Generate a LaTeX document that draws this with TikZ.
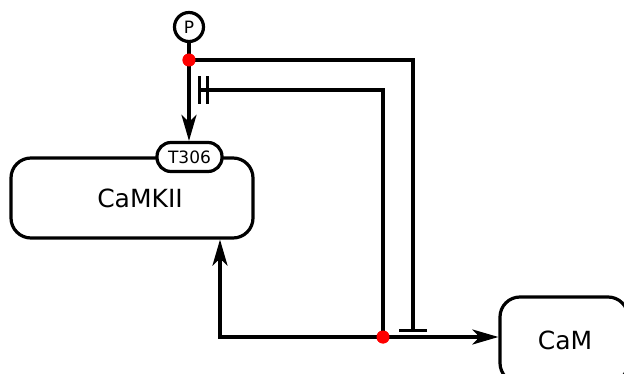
\documentclass[tikz,border=0pt]{standalone}
\usepackage{fontspec}
\setmainfont{DejaVu Sans}
\usetikzlibrary{arrows.meta}
\begin{document}
\begin{tikzpicture}[x=1pt,y=-1pt,
  line width=3.2pt,
  entity/.style={draw,rounded corners=20pt,inner sep=0pt},
  site/.style={draw,fill=white,rounded corners=14pt,minimum width=65pt,minimum height=29pt,inner sep=0pt,font=\fontsize{17}{19}\selectfont},
  pcirc/.style={draw,fill=white,circle,minimum size=29pt,inner sep=0pt,font=\fontsize{17}{19}\selectfont},
  dot/.style={circle,fill=red,minimum size=13pt,inner sep=0pt},
  stim/.style={-{Stealth[length=26pt,width=15pt,inset=7pt]}},
  inhib/.style={-{Bar[width=28pt]}},
  necinhib/.style={-{Bar[width=28pt,sep=5pt]Bar[width=28pt]}},
  biglab/.style={font=\fontsize{25}{29}\selectfont}
]
\useasboundingbox (0,0) rectangle (624,374);
% entities
\node[entity,minimum width=242pt,minimum height=80pt] (camkii) at (132,198) {};
\node[biglab] (camkiilab) at (140,198) {CaMKII};
\node[entity,minimum width=128pt,minimum height=86pt] (cam) at (564,340) {};
\node[biglab] (camlab) at (565,340) {CaM};
\node[site] (t306) at (189.5,157) {T306};
\node[pcirc] (p) at (189,27) {P};
% process dots
\node[dot] (d1) at (189,60) {};
\node[dot] (d2) at (383,337) {};
\coordinate (c1) at (413,60);
\coordinate (c1b) at (413,332);
\coordinate (c2) at (383,90);
\coordinate (c2b) at (198,90);
\coordinate (src) at (220,337);
% connectors
\draw (p.south) -- (d1.center);
\draw[stim] (d1.center) -- (d1 |- t306.north);
\draw[inhib] (d1.center) -- (c1) -- (c1b);
\draw[necinhib] (d2.center) -- (c2) -- (c2b);
\draw[stim] (d2.center) -- (d2 -| cam.west);
\draw[stim] (d2.center) -- (src) -- (src |- camkii.south);
\node[dot] at (d1) {};
\node[dot] at (d2) {};
\end{tikzpicture}
\end{document}
